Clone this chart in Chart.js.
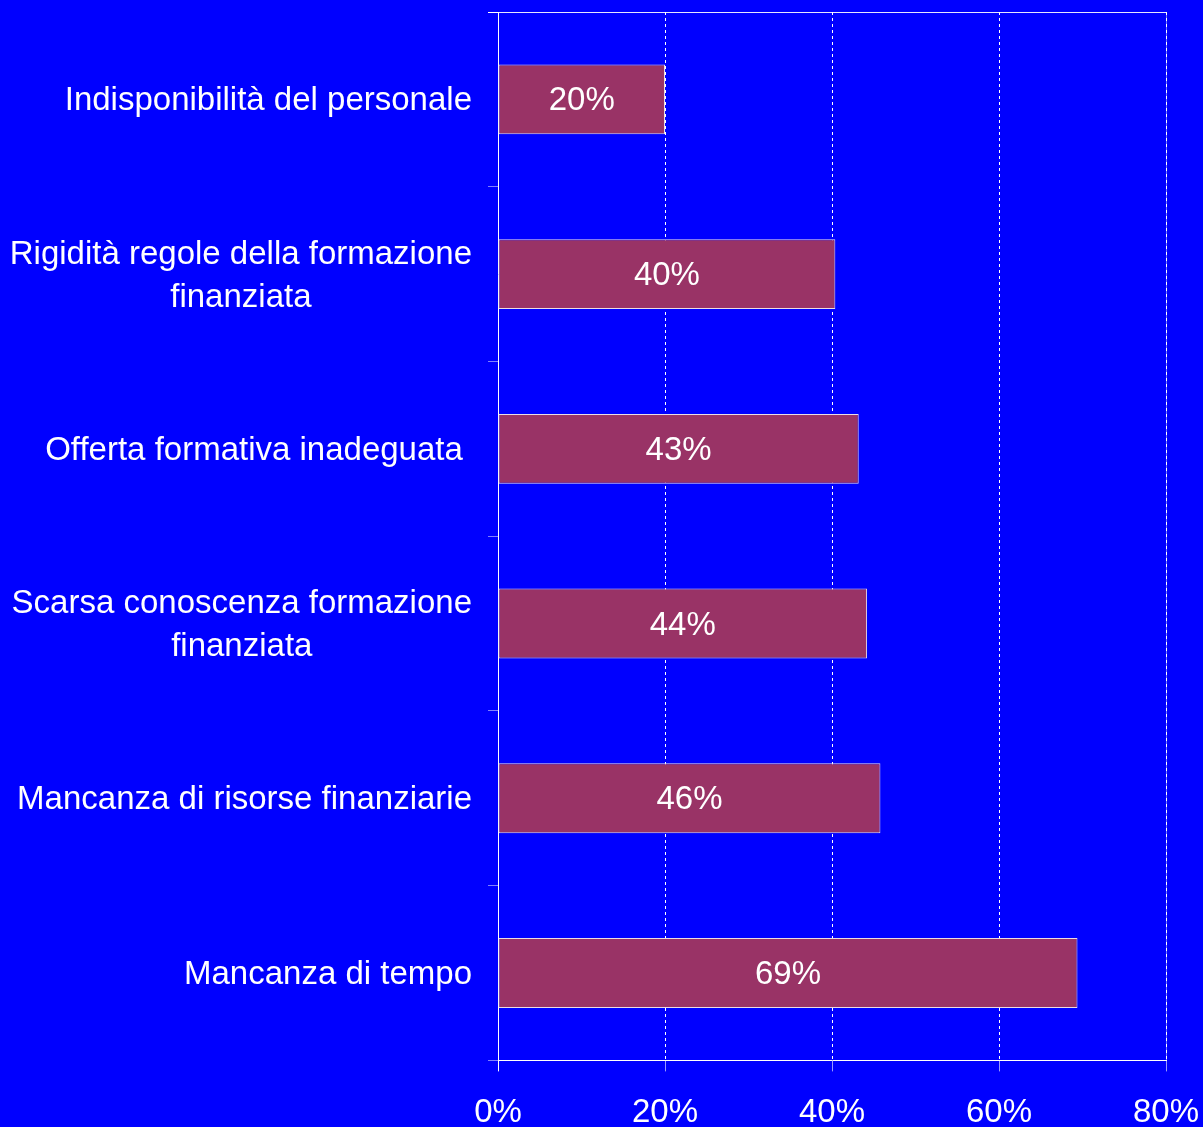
<!DOCTYPE html>
<html>
<head>
<meta charset="utf-8">
<script src="https://cdn.jsdelivr.net/npm/chart.js@4/dist/chart.umd.min.js"></script>
<style>
  html, body { margin: 0; padding: 0; background: #0000ff; overflow: hidden; }
  #wrap { width: 1203px; height: 1155px; position: relative; }
</style>
</head>
<body>
<div id="wrap"><canvas id="c"></canvas></div>
<script>
const categories = [
  "Indisponibilità del personale",
  ["Rigidità regole della formazione", "finanziata"],
  "Offerta formativa inadeguata ",
  ["Scarsa conoscenza formazione", "finanziata"],
  "Mancanza di risorse finanziarie",
  "Mancanza di tempo"
];
const values = [20.0, 40.4, 43.2, 44.2, 45.8, 69.4];
const valueLabels = ["20%", "40%", "43%", "44%", "46%", "69%"];
const xTickMin = 0, xTickMax = 80, xTickStep = 20;

const FONT = "'Liberation Sans', Arial, sans-serif";
const FSIZE = 33;
const Y_TICK_LEN = 10, Y_PAD = 16;
const TEXT_NUDGE = 2;

const decorPlugin = {
  id: 'decor',
  beforeDatasetsDraw(chart) {
    const {ctx, chartArea} = chart;
    const y = chart.scales.y;
    ctx.save();
    ctx.strokeStyle = 'rgba(255,255,255,0.45)';
    ctx.lineWidth = 1;
    ctx.beginPath();
    ctx.moveTo(Math.round(chartArea.right) + 0.5, chartArea.top);
    ctx.lineTo(Math.round(chartArea.right) + 0.5, chartArea.bottom);
    ctx.stroke();
    ctx.strokeStyle = 'rgba(255,255,255,0.9)';
    ctx.beginPath();
    ctx.moveTo(y.right - Y_TICK_LEN, Math.round(chartArea.top) + 0.5);
    ctx.lineTo(chartArea.right, Math.round(chartArea.top) + 0.5);
    ctx.stroke();
    ctx.restore();
  },
  afterDatasetsDraw(chart) {
    const {ctx} = chart;
    const meta = chart.getDatasetMeta(0);
    ctx.save();
    ctx.font = FSIZE + 'px ' + FONT;
    ctx.fillStyle = '#ffffff';
    ctx.textAlign = 'center';
    ctx.textBaseline = 'middle';
    meta.data.forEach((bar, i) => {
      const cx = (bar.x + bar.base) / 2;
      ctx.fillText(valueLabels[i], cx, bar.y + TEXT_NUDGE);
    });
    const ys = chart.scales.y;
    const rightX = ys.right - Y_TICK_LEN - Y_PAD;
    const lh = FSIZE * 1.3;
    categories.forEach((lab, i) => {
      const lines = Array.isArray(lab) ? lab : [lab];
      const widths = lines.map(l => ctx.measureText(l).width);
      const w = Math.max(...widths);
      const center = rightX - w / 2;
      const cy = ys.getPixelForTick(i) + TEXT_NUDGE;
      lines.forEach((l, k) => {
        const ly = cy + (k - (lines.length - 1) / 2) * lh;
        ctx.fillText(l, center, ly);
      });
    });
    ctx.restore();
  }
};

new Chart(document.getElementById('c'), {
  type: 'bar',
  data: {
    labels: categories,
    datasets: [{
      data: values,
      backgroundColor: '#993366',
      borderColor: '#eadbe6',
      borderWidth: 1,
      borderSkipped: false,
      categoryPercentage: 1.0,
      barPercentage: 0.4
    }]
  },
  options: {
    indexAxis: 'y',
    responsive: true,
    maintainAspectRatio: false,
    animation: false,
    layout: { padding: { top: 12, right: 37, left: 0, bottom: 0 } },
    plugins: { legend: { display: false }, tooltip: { enabled: false } },
    scales: {
      x: {
        min: xTickMin, max: xTickMax,
        afterFit: s => { s.paddingRight = 0; s.paddingLeft = 0; },
        ticks: {
          stepSize: xTickStep,
          color: '#ffffff',
          font: { family: FONT, size: FSIZE },
          padding: 22,
          maxRotation: 0,
          callback: v => v + '%'
        },
        grid: {
          color: '#ffffff',
          lineWidth: 1,
          tickLength: 11,
          tickColor: ctx => ctx.index === 0 ? '#ffffff' : 'rgba(255,255,255,0.6)',
          tickBorderDash: []
        },
        border: { display: true, color: '#ffffff', width: 1, dash: [3, 3] }
      },
      y: {
        offset: true,
        afterFit: s => { s.width = 498; },
        ticks: { display: false },
        grid: {
          offset: true,
          drawOnChartArea: false,
          drawTicks: true,
          tickLength: Y_TICK_LEN,
          tickColor: ctx => (ctx.index === 0 || ctx.index === categories.length) ? '#ffffff' : 'rgba(255,255,255,0.5)'
        },
        border: { display: true, color: '#ffffff', width: 1 }
      }
    }
  },
  plugins: [decorPlugin]
});
</script>
</body>
</html>
